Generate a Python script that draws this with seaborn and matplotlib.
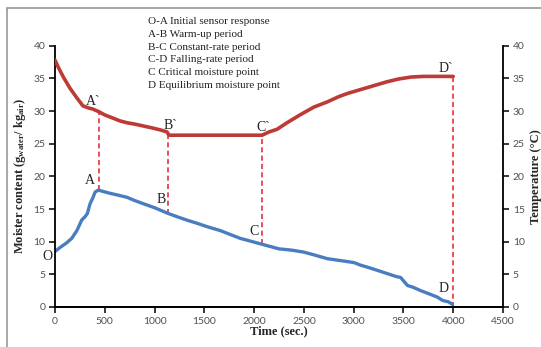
import matplotlib
matplotlib.use("Agg")
import matplotlib.pyplot as plt
import seaborn as sns
import pandas as pd
from matplotlib.lines import Line2D

# ---- data ----
temp_time = [0, 30, 80, 150, 220, 280, 330, 380, 440, 500, 585, 650, 725, 800, 890, 980,
             1060, 1125, 1145, 1300, 1500, 1700, 1900, 2080, 2150, 2230, 2330, 2460, 2600,
             2735, 2850, 2940, 3050, 3140, 3250, 3340, 3450, 3575, 3700, 3850, 4000]
temp_vals = [37.8, 36.8, 35.3, 33.5, 32.0, 30.8, 30.5, 30.3, 29.9, 29.4, 28.9, 28.5, 28.2,
             28.0, 27.7, 27.4, 27.1, 26.8, 26.3, 26.3, 26.3, 26.3, 26.3, 26.3, 26.8, 27.2,
             28.2, 29.4, 30.6, 31.4, 32.2, 32.7, 33.2, 33.6, 34.1, 34.5, 34.9, 35.2, 35.3,
             35.3, 35.3]

moist_time = [0, 50, 115, 168, 220, 268, 300, 325, 352, 380, 403, 436, 480, 554, 640, 722,
              800, 889, 1000, 1140, 1230, 1325, 1430, 1527, 1660, 1760, 1862, 1960, 2080,
              2250, 2380, 2500, 2620, 2735, 2870, 3003, 3070, 3138, 3240, 3340, 3420, 3473,
              3540, 3600, 3674, 3760, 3842, 3893, 3950, 3993]
moist_vals = [8.5, 9.1, 9.8, 10.5, 11.7, 13.3, 13.8, 14.3, 15.8, 16.7, 17.6, 17.9, 17.7,
              17.4, 17.1, 16.8, 16.3, 15.8, 15.2, 14.3, 13.8, 13.3, 12.8, 12.3, 11.7, 11.1,
              10.5, 10.1, 9.6, 8.9, 8.7, 8.4, 7.9, 7.4, 7.1, 6.8, 6.4, 6.1, 5.6, 5.1, 4.7,
              4.5, 3.3, 3.0, 2.5, 2.0, 1.5, 1.0, 0.8, 0.4]

# marker (dashed) lines: time, lower (moisture) value, upper (temperature) value
mark_time = [440, 1140, 2080, 4000]
mark_low = [17.9, 14.3, 9.6, 0.0]
mark_high = [29.9, 26.6, 26.3, 35.3]

point_labels = ["A`", "B`", "C`", "D`", "O", "A", "B", "C", "D"]
point_x = [383, 1158, 2094, 3926, -80, 352, 1067, 1994, 3906]
point_y = [31.5, 27.8, 27.5, 36.5, 7.8, 19.3, 16.5, 11.6, 2.9]

legend_lines = ["O-A Initial sensor response", "A-B Warm-up period",
                "B-C Constant-rate period", "C-D Falling-rate period",
                "C Critical moisture point", "D Equilibrium moisture point"]

x_ticks = [0, 500, 1000, 1500, 2000, 2500, 3000, 3500, 4000, 4500]
y_ticks = [0, 5, 10, 15, 20, 25, 30, 35, 40]

# ---- style ----
sns.set_style("white")
SERIF = "Liberation Serif"
plt.rcParams["font.family"] = ["Lato", "DejaVu Sans"]
plt.rcParams["mathtext.fontset"] = "custom"
plt.rcParams["mathtext.bf"] = "Liberation Serif:bold"
plt.rcParams["mathtext.rm"] = "Liberation Serif"
plt.rcParams["mathtext.it"] = "Liberation Serif:italic"
BLUE = "#4a7cc0"
RED = "#bd3a36"
TICKC = "#505050"

fig = plt.figure(figsize=(5.41, 3.47), dpi=100)
ax = fig.add_axes([55 / 541, 1 - 307 / 347, (503 - 55) / 541, (307 - 45.7) / 347])
ax2 = ax.twinx()

df_m = pd.DataFrame({"t": moist_time, "v": moist_vals})
df_t = pd.DataFrame({"t": temp_time, "v": temp_vals})
sns.lineplot(data=df_m, x="t", y="v", ax=ax, color=BLUE, lw=2.4, sort=False)
sns.lineplot(data=df_t, x="t", y="v", ax=ax2, color=RED, lw=2.6, sort=False)

ax.vlines(mark_time, mark_low, mark_high, colors="#e8303a", linestyles=(0, (3, 2)),
          lw=1.2, zorder=1)

for lab, px, py in zip(point_labels, point_x, point_y):
    ax.text(px, py, lab, ha="center", va="center", fontsize=10, family=SERIF,
            color="#222222")

for i, line in enumerate(legend_lines):
    fig.text(148 / 541, 1 - (22 + i * 12.6) / 347, line, ha="left", va="center",
             fontsize=8, family=SERIF, color="#222222")

for a in (ax, ax2):
    a.set_xlim(0, 4500)
    a.set_ylim(0, 40)
    a.set_yticks(y_ticks)
    a.spines["top"].set_visible(False)
    for s in a.spines.values():
        s.set_color("black")
        s.set_linewidth(1.3)
    a.tick_params(direction="out", length=4, width=1.1, colors="black",
                  labelcolor=TICKC, labelsize=7.5)
    a.set_xlabel("")
    a.set_ylabel("")

ax.spines["right"].set_visible(False)
ax2.spines["left"].set_visible(False)
ax.set_xticks(x_ticks)
ax.tick_params(axis="y", left=True, pad=3)
ax.tick_params(axis="x", bottom=True, pad=3)
ax2.tick_params(axis="y", right=True, pad=3)
ax.patch.set_alpha(0)

ax.set_xlabel("Time (sec.)", family=SERIF, fontsize=9, fontweight="bold", labelpad=0)
ax.set_ylabel(r"Moister content (g$_{\mathbf{water}}$/ kg$_{\mathbf{air}}$)",
              family=SERIF, fontsize=9, fontweight="bold", labelpad=4)
ax2.set_ylabel("Temperature (°C)", family=SERIF, fontsize=9, fontweight="bold",
               labelpad=4)

# outer frame (top and left only visible)
fig.add_artist(Line2D([7 / 541, 1.0], [1 - 8 / 347, 1 - 8 / 347], transform=fig.transFigure,
                      color="#9a9a9a", lw=1.2))
fig.add_artist(Line2D([7 / 541, 7 / 541], [0.0, 1 - 8 / 347], transform=fig.transFigure,
                      color="#9a9a9a", lw=1.2))

fig.savefig("out.png", dpi=100)
